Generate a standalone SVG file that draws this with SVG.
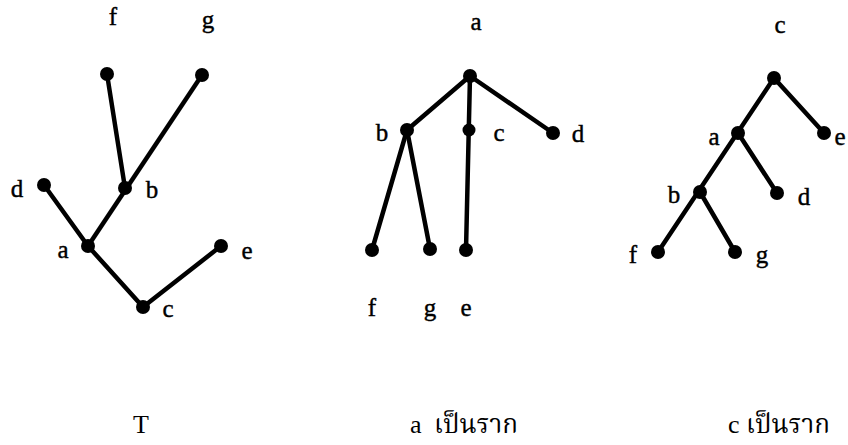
<svg xmlns="http://www.w3.org/2000/svg" width="848" height="445" viewBox="0 0 848 445">
<style>
.e{stroke:#000;stroke-width:4.5;stroke-linecap:round;fill:none}
.n{fill:#000}
.l{font-family:"Liberation Serif","DejaVu Serif",serif;font-size:25px;fill:#000;stroke:#000;stroke-width:0.4;text-anchor:middle}
.cap{font-family:"Liberation Serif","Noto Serif Thai","Noto Sans Thai","Loma","Garuda",serif;font-size:26px;fill:#000}
</style>
<rect width="848" height="445" fill="#fff"/>
<g id="connectors">
<line class="e" x1="107" y1="74" x2="125" y2="188"/>
<line class="e" x1="202" y1="75" x2="88" y2="246"/>
<line class="e" x1="44" y1="185" x2="88" y2="246"/>
<line class="e" x1="88" y1="246" x2="143" y2="307"/>
<line class="e" x1="143" y1="307" x2="221" y2="246"/>
<line class="e" x1="470" y1="76" x2="407" y2="130"/>
<line class="e" x1="470" y1="76" x2="466" y2="250"/>
<line class="e" x1="470" y1="76" x2="553" y2="133"/>
<line class="e" x1="407" y1="130" x2="372" y2="250"/>
<line class="e" x1="407" y1="130" x2="430" y2="249"/>
<line class="e" x1="774" y1="78" x2="658" y2="252"/>
<line class="e" x1="774" y1="78" x2="824" y2="133"/>
<line class="e" x1="738" y1="133" x2="777" y2="193"/>
<line class="e" x1="700" y1="192" x2="735" y2="252"/>
</g>
<g id="t1-f"><circle class="n" cx="107" cy="74" r="7"/><text class="l" x="113" y="25">f</text></g>
<g id="t1-g"><circle class="n" cx="202" cy="75" r="7"/><text class="l" x="208" y="28">g</text></g>
<g id="t1-b"><circle class="n" cx="125" cy="188" r="7"/><text class="l" x="152" y="198">b</text></g>
<g id="t1-d"><circle class="n" cx="44" cy="185" r="7"/><text class="l" x="17" y="197">d</text></g>
<g id="t1-a"><circle class="n" cx="88" cy="246" r="7"/><text class="l" x="63" y="258">a</text></g>
<g id="t1-c"><circle class="n" cx="143" cy="307" r="7"/><text class="l" x="168" y="317">c</text></g>
<g id="t1-e"><circle class="n" cx="221" cy="246" r="7"/><text class="l" x="247" y="259">e</text></g>
<g id="t2-a"><circle class="n" cx="470" cy="76" r="7"/><text class="l" x="476" y="30">a</text></g>
<g id="t2-b"><circle class="n" cx="407" cy="130" r="7"/><text class="l" x="382" y="141">b</text></g>
<g id="t2-c"><circle class="n" cx="469" cy="130" r="6.5"/><text class="l" x="499" y="141">c</text></g>
<g id="t2-d"><circle class="n" cx="553" cy="133" r="7"/><text class="l" x="578" y="142">d</text></g>
<g id="t2-f"><circle class="n" cx="372" cy="250" r="7"/><text class="l" x="372" y="316">f</text></g>
<g id="t2-g"><circle class="n" cx="430" cy="249" r="7"/><text class="l" x="430" y="316">g</text></g>
<g id="t2-e"><circle class="n" cx="466" cy="250" r="7"/><text class="l" x="466" y="316">e</text></g>
<g id="t3-c"><circle class="n" cx="774" cy="78" r="7"/><text class="l" x="780" y="33">c</text></g>
<g id="t3-e"><circle class="n" cx="824" cy="133" r="7"/><text class="l" x="840" y="145">e</text></g>
<g id="t3-a"><circle class="n" cx="738" cy="133" r="7"/><text class="l" x="714" y="145">a</text></g>
<g id="t3-d"><circle class="n" cx="777" cy="193" r="7"/><text class="l" x="804" y="205">d</text></g>
<g id="t3-b"><circle class="n" cx="700" cy="192" r="7"/><text class="l" x="674" y="203">b</text></g>
<g id="t3-f"><circle class="n" cx="658" cy="252" r="7"/><text class="l" x="633" y="263">f</text></g>
<g id="t3-g"><circle class="n" cx="735" cy="252" r="7"/><text class="l" x="762" y="263">g</text></g>
<g id="captions">
<text class="cap" x="141" y="433" text-anchor="middle">T</text>
<text class="cap" x="410" y="433">a <tspan dx="6">เป็นราก</tspan></text>
<text class="cap" x="728" y="433">c เป็นราก</text>
</g>
</svg>
